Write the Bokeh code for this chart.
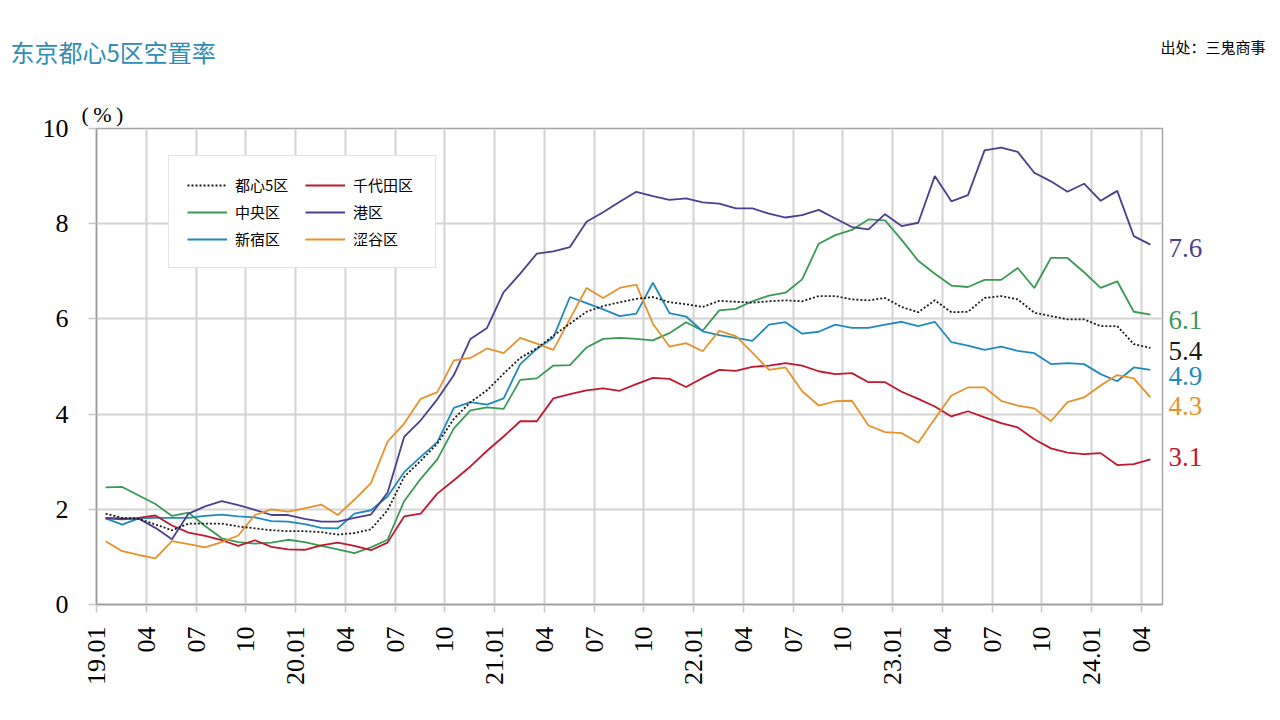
import numpy as np
from bokeh.plotting import figure
from bokeh.layouts import column, row
from bokeh.models import Range1d, Legend, LegendItem, FixedTicker, Title
from bokeh.core.properties import value
from bokeh.embed import file_html
from bokeh.resources import INLINE

# ---------------- data ----------------
months = list(range(64))  # 2019.01 ... 2024.04
tick_months = list(range(0, 64, 3))
tick_labels = ["19.01", "04", "07", "10", "20.01", "04", "07", "10",
               "21.01", "04", "07", "10", "22.01", "04", "07", "10",
               "23.01", "04", "07", "10", "24.01", "04"]

series_names = ["都心5区", "中央区", "新宿区", "千代田区", "港区", "涩谷区"]

toshin5 = [1.91, 1.82, 1.80, 1.68, 1.56, 1.70, 1.70, 1.70, 1.64, 1.60,
           1.56, 1.54, 1.54, 1.52, 1.47, 1.50, 1.58, 1.98, 2.68, 3.02,
           3.38, 3.90, 4.25, 4.50, 4.85, 5.18, 5.38, 5.65, 5.90, 6.15,
           6.27, 6.35, 6.42, 6.46, 6.35, 6.31, 6.25, 6.38, 6.36, 6.34,
           6.37, 6.39, 6.37, 6.48, 6.48, 6.41, 6.39, 6.44, 6.25, 6.14,
           6.39, 6.14, 6.15, 6.44, 6.48, 6.41, 6.13, 6.06, 5.99, 5.99,
           5.85, 5.85, 5.47, 5.39]
chuo = [2.46, 2.47, 2.29, 2.11, 1.86, 1.93, 1.65, 1.39, 1.31, 1.28,
        1.30, 1.36, 1.31, 1.23, 1.16, 1.08, 1.20, 1.36, 2.17, 2.64,
        3.05, 3.70, 4.08, 4.14, 4.11, 4.72, 4.75, 5.02, 5.03, 5.40,
        5.58, 5.60, 5.58, 5.55, 5.70, 5.93, 5.75, 6.18, 6.21, 6.37,
        6.49, 6.55, 6.83, 7.58, 7.76, 7.87, 8.09, 8.07, 7.66, 7.22,
        6.95, 6.70, 6.67, 6.82, 6.82, 7.07, 6.65, 7.28, 7.28, 6.98,
        6.65, 6.79, 6.15, 6.09]
shinjuku = [1.81, 1.68, 1.81, 1.82, 1.82, 1.82, 1.86, 1.89, 1.85, 1.83,
            1.75, 1.74, 1.69, 1.61, 1.60, 1.91, 1.98, 2.27, 2.78, 3.10,
            3.41, 4.13, 4.25, 4.20, 4.33, 5.05, 5.37, 5.61, 6.46, 6.33,
            6.20, 6.06, 6.11, 6.76, 6.12, 6.05, 5.74, 5.66, 5.60, 5.54,
            5.88, 5.93, 5.69, 5.73, 5.88, 5.81, 5.81, 5.88, 5.94, 5.85,
            5.94, 5.51, 5.44, 5.35, 5.42, 5.33, 5.28, 5.05, 5.07, 5.05,
            4.84, 4.69, 4.98, 4.93]
chiyoda = [1.81, 1.79, 1.82, 1.87, 1.66, 1.51, 1.44, 1.35, 1.23, 1.35,
           1.21, 1.16, 1.15, 1.24, 1.30, 1.23, 1.14, 1.30, 1.85, 1.91,
           2.33, 2.61, 2.90, 3.23, 3.53, 3.85, 3.85, 4.33, 4.42, 4.50,
           4.54, 4.49, 4.63, 4.76, 4.74, 4.57, 4.76, 4.93, 4.91, 4.99,
           5.02, 5.07, 5.02, 4.90, 4.84, 4.86, 4.67, 4.67, 4.47, 4.32,
           4.16, 3.95, 4.06, 3.93, 3.81, 3.72, 3.47, 3.28, 3.19, 3.16,
           3.18, 2.93, 2.95, 3.05]
minato = [1.82, 1.81, 1.80, 1.61, 1.37, 1.91, 2.06, 2.17, 2.09, 1.99,
          1.88, 1.88, 1.80, 1.74, 1.74, 1.82, 1.89, 2.35, 3.52, 3.87,
          4.31, 4.82, 5.58, 5.81, 6.56, 6.95, 7.37, 7.42, 7.51, 8.04,
          8.24, 8.46, 8.67, 8.58, 8.50, 8.53, 8.45, 8.42, 8.32, 8.32,
          8.21, 8.13, 8.18, 8.29, 8.11, 7.93, 7.88, 8.20, 7.95, 8.02,
          9.00, 8.47, 8.60, 9.54, 9.60, 9.51, 9.07, 8.89, 8.67, 8.84,
          8.48, 8.69, 7.74, 7.56]
shibuya = [1.33, 1.12, 1.04, 0.97, 1.33, 1.27, 1.20, 1.31, 1.45, 1.88,
           2.00, 1.95, 2.02, 2.10, 1.88, 2.20, 2.55, 3.42, 3.80, 4.32,
           4.46, 5.13, 5.18, 5.38, 5.28, 5.60, 5.48, 5.35, 6.00, 6.65,
           6.44, 6.65, 6.72, 5.90, 5.42, 5.49, 5.32, 5.75, 5.64, 5.29,
           4.93, 4.98, 4.48, 4.18, 4.27, 4.28, 3.76, 3.62, 3.60, 3.40,
           3.90, 4.39, 4.56, 4.56, 4.28, 4.18, 4.12, 3.85, 4.25, 4.35,
           4.60, 4.82, 4.75, 4.35]

end_labels = ["5.4", "6.1", "4.9", "3.1", "7.6", "4.3"]

title_text = "东京都心5区空置率"
source_text = "出处：三鬼商事"
unit_text = "(\u2009%\u2009)"

# ---------------- style / layout ----------------
colors = ["#1a1a1a", "#3a9a55", "#1f8bbd", "#bf1830", "#4b4090", "#e8922c"]
dashes = ["2 2", "solid", "solid", "solid", "solid", "solid"]
end_label_y = [5.33, 5.98, 4.80, 3.10, 7.50, 4.18]   # vertical placement of end labels
all_series = [toshin5, chuo, shinjuku, chiyoda, minato, shibuya]

x_pos = np.array(months) + 0.55   # points sit inside each month slot

SERIF = "Liberation Serif"
CJK = "Noto Sans CJK SC"

TOP_H = 98
BORDER_TOP = 30
FRAME_H = 476
BORDER_BOTTOM = 111
MAIN_H = BORDER_TOP + FRAME_H + BORDER_BOTTOM
MAIN_W = 96 + 1066 + 2
TOTAL_W = 1280

y_range = Range1d(0, 10)

# ---- header strip (title + source) ----
top = figure(width=TOTAL_W, height=TOP_H, output_backend="svg", toolbar_location=None,
             x_range=Range1d(0, TOTAL_W), y_range=Range1d(TOP_H, 0),
             min_border=0, min_border_left=0, min_border_right=0,
             min_border_top=0, min_border_bottom=0)
top.axis.visible = False
top.grid.visible = False
top.outline_line_color = None
top.background_fill_color = "white"
top.border_fill_color = "white"
top.text(x=[10], y=[51], text=[title_text], text_font=value(CJK), text_font_size="24px",
         text_color="#2f8db5", text_baseline="middle", text_align="left")
top.text(x=[1160], y=[46], text=[source_text], text_font=value(CJK), text_font_size="15px",
         text_color="black", text_baseline="middle", text_align="left")

# ---- main chart ----
p = figure(width=MAIN_W, height=MAIN_H, output_backend="svg", toolbar_location=None,
           x_range=Range1d(0, 64.28), y_range=y_range,
           min_border_left=96, min_border_right=2,
           min_border_top=BORDER_TOP, min_border_bottom=BORDER_BOTTOM)
p.background_fill_color = "white"
p.border_fill_color = "white"
p.outline_line_color = "#a6a6a6"
p.outline_line_width = 1.5

p.add_layout(Title(text=unit_text, align="left", offset=-15, standoff=3,
                   text_font=SERIF, text_font_size="22px", text_font_style="normal",
                   text_color="black"), "above")

p.yaxis.ticker = FixedTicker(ticks=[0, 2, 4, 6, 8, 10])
p.xaxis.ticker = FixedTicker(ticks=tick_months)
p.xaxis.major_label_overrides = {m: lab for m, lab in zip(tick_months, tick_labels)}
p.xaxis.major_label_orientation = np.pi / 2
for ax in (p.xaxis, p.yaxis):
    ax.axis_line_color = "#9a9a9a"
    ax.axis_line_width = 1.5
    ax.major_tick_line_color = "#c8c8c8"
    ax.major_tick_line_width = 1.5
    ax.major_tick_out = 8
    ax.major_tick_in = 0
    ax.minor_tick_line_color = None
    ax.major_label_text_font = SERIF
    ax.major_label_text_font_size = "26px"
    ax.major_label_text_color = "black"
p.yaxis.major_label_standoff = 20
p.xaxis.major_label_standoff = 14

p.xgrid.ticker = FixedTicker(ticks=tick_months)
p.ygrid.ticker = FixedTicker(ticks=[0, 2, 4, 6, 8, 10])
for g in (p.xgrid, p.ygrid):
    g.grid_line_color = "#d3d3d3"
    g.grid_line_width = 2

renderers = []
for ys, c, d in zip(all_series, colors, dashes):
    r = p.line(x_pos, ys, line_color=c, line_width=1.8, line_dash=d)
    renderers.append(r)
# dotted average drawn last (on top)
p.renderers = renderers[1:] + renderers[:1]

legend = Legend(items=[LegendItem(label=series_names[k], renderers=[renderers[k]]) for k in range(6)],
                location=(72, 336), orientation="vertical", nrows=3,
                padding=18, spacing=6, margin=0,
                glyph_width=40, glyph_height=20, label_height=20, label_width=64,
                label_standoff=8,
                label_text_font=CJK, label_text_font_size="15px", label_text_color="black",
                border_line_color="#c8c8c8", border_line_width=1.5,
                background_fill_color="white", background_fill_alpha=1.0)
p.add_layout(legend)

# ---- right strip with latest values ----
rt = figure(width=TOTAL_W - MAIN_W, height=MAIN_H, output_backend="svg", toolbar_location=None,
            x_range=Range1d(0, TOTAL_W - MAIN_W), y_range=y_range,
            min_border_left=0, min_border_right=0,
            min_border_top=BORDER_TOP, min_border_bottom=BORDER_BOTTOM)
rt.axis.visible = False
rt.grid.visible = False
rt.outline_line_color = None
rt.background_fill_color = "white"
rt.border_fill_color = "white"
rt.text(x=[4] * len(end_labels), y=end_label_y, text=end_labels,
        text_font=value(SERIF), text_font_size="27px", text_color=colors,
        text_baseline="middle", text_align="left")

layout = column(top, row(p, rt, spacing=0), spacing=0)
open("out.html", "w").write(file_html(layout, INLINE))
